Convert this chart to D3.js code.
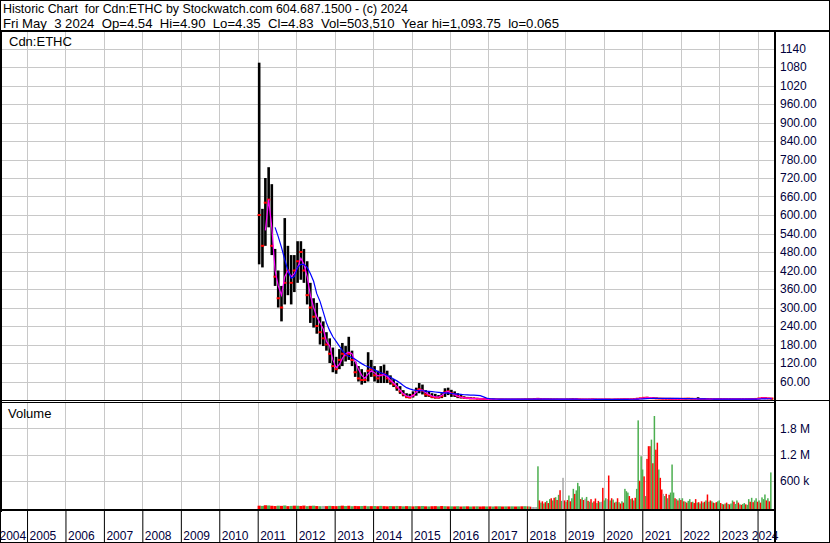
<!DOCTYPE html>
<html>
<head>
<meta charset="utf-8">
<script src="https://cdn.jsdelivr.net/npm/d3@7"></script>
<style>
body { margin: 0; background: #fff; }
svg { display: block; font-family: Arial, "Liberation Sans", sans-serif; }
</style>
</head>
<body>
<script>
// monthly bars, Jan 2011 .. May 2024
var priceHi = [
  1094, 620, 720, 755, 700, 490, 420, 370, 590, 500, 470, 470,
  515, 515, 490, 450, 380, 330, 315, 270, 255, 220, 200, 170,
  140, 165, 185, 175, 205, 160, 125, 110, 100, 90, 155, 130,
  110, 95, 110, 115, 95, 80, 68, 55, 45, 32, 22, 20,
  28, 40, 55, 50, 32, 28, 22, 20, 16, 22, 38, 40,
  33, 28, 22, 16, 12, 10, 9, 8, 7, 6, 5, 5,
  3.5, 3, 3, 3, 2.8, 2.8, 2.6, 2.6, 2.5, 2.5, 2.5, 3,
  3.5, 3.2, 4.5, 5, 4.2, 4, 3.8, 3.5, 3.2, 3.4, 3, 2.8,
  2.8, 3, 3.2, 3.4, 3, 2.8, 2.6, 2.6, 3, 2.8, 2.5, 2.5,
  2.6, 2.5, 2.4, 2.4, 2.6, 2.8, 3, 3.2, 3, 3.5, 5, 6.5,
  9, 10, 8.5, 8, 7.5, 6.5, 6, 5.5, 5.5, 5, 5, 4.8,
  5, 5.5, 6, 5.5, 5, 9, 5, 4.5, 4.2, 4, 3.8, 3.6,
  3.8, 3.6, 3.5, 3.5, 3.4, 3.2, 3.2, 3.3, 3.4, 3.3, 3.5, 4,
  6, 8, 9, 7, 4.9
];
var priceLo = [
  440, 430, 500, 560, 470, 370, 300, 255, 310, 340, 310, 350,
  380, 390, 380, 310, 250, 235, 215, 180, 175, 160, 120, 90,
  85, 100, 110, 125, 130, 110, 75, 60, 50, 55, 60, 75,
  60, 55, 55, 55, 55, 50, 42, 30, 20, 12, 6, 6,
  8, 14, 22, 18, 10, 10, 6, 5, 5, 6, 10, 16,
  10, 10, 6, 5, 4, 4, 3, 3, 2.5, 2, 2, 2,
  1.8, 1.6, 1.6, 1.5, 1.5, 1.4, 1.4, 1.3, 1.3, 1.3, 1.4, 1.5,
  1.8, 1.8, 2, 2.5, 2.2, 2, 2, 1.8, 1.7, 1.7, 1.6, 1.5,
  1.5, 1.6, 1.8, 2, 1.8, 1.6, 1.5, 1.5, 1.6, 1.5, 1.4, 1.4,
  1.5, 1.4, 1.2, 1.3, 1.5, 1.6, 1.8, 2, 1.9, 2, 2.5, 3.5,
  4.5, 5, 4.5, 4.2, 4, 3.8, 3.5, 3.4, 3.2, 3, 3, 2.8,
  3, 3, 3.2, 3, 2.8, 2.8, 2.6, 2.5, 2.4, 2.3, 2.2, 2.2,
  2.2, 2.2, 2.1, 2, 2, 2, 2, 2, 2.1, 2.1, 2.2, 2.4,
  3, 4, 4.5, 4.2, 4.35
];
var priceClose = [
  600, 500, 640, 650, 500, 400, 330, 300, 380, 420, 380, 420,
  450, 480, 420, 340, 300, 270, 240, 220, 200, 180, 150, 110,
  100, 130, 150, 145, 150, 130, 90, 70, 65, 65, 95, 100,
  80, 70, 80, 85, 70, 60, 50, 40, 28, 18, 10, 8,
  15, 30, 35, 30, 18, 15, 10, 8, 8, 12, 25, 28,
  22, 18, 12, 9, 7, 6, 5, 5, 4, 3.5, 3, 3,
  2.5, 2.2, 2.2, 2, 2, 1.9, 1.8, 1.8, 1.8, 1.9, 2, 2.4,
  2.4, 2.4, 3.2, 3.8, 3, 2.8, 2.6, 2.4, 2.3, 2.2, 2, 1.9,
  2.2, 2.4, 2.8, 2.6, 2.2, 2, 1.9, 2, 2.3, 2, 1.8, 1.9,
  2, 1.9, 1.6, 2, 2.2, 2.4, 2.6, 2.6, 2.5, 3, 4.2, 5.5,
  7, 7.5, 6, 5.8, 5, 4.5, 4.2, 4, 4, 3.8, 3.6, 3.5,
  4, 4.2, 4.5, 4, 3.6, 3.5, 3.3, 3.1, 3, 2.9, 2.8, 2.8,
  3, 2.9, 2.8, 2.8, 2.7, 2.6, 2.7, 2.8, 2.8, 2.9, 3.1, 3.4,
  5, 6.5, 6, 5, 4.83
];
// short average (magenta) and long average (blue), same months
var avgShort = [
  null, null, 550, 650, 560, 420, 370, 340, 400, 420, 400, 410,
  430, 460, 440, 400, 340, 300, 270, 250, 230, 190, 175, 130,
  105, 115, 135, 150, 155, 150, 125, 100, 80, 70, 85, 95,
  88, 78, 80, 82, 76, 65, 55, 45, 32, 20, 13, 10,
  14, 25, 33, 32, 24, 18, 13, 10, 9, 15, 24, 28,
  22, 17, 12, 9, 7, 6, 5, 4.5, 4, 3.5, 3.2, 3,
  2.8, 2.5, 2.3, 2.2, 2.1, 2, 1.9, 1.9, 1.9, 1.9, 2, 2.2,
  2.4, 2.4, 2.8, 3.4, 3.2, 2.9, 2.7, 2.5, 2.4, 2.3, 2.1, 2,
  2, 2.2, 2.5, 2.6, 2.4, 2.1, 2, 2, 2.2, 2.1, 1.9, 1.9,
  1.9, 1.9, 1.7, 1.9, 2.1, 2.3, 2.5, 2.6, 2.5, 2.9, 3.8, 5,
  6.5, 7.2, 6.6, 6, 5.3, 4.8, 4.4, 4.1, 4, 3.9, 3.7, 3.6,
  3.8, 4, 4.3, 4.1, 3.8, 3.6, 3.4, 3.2, 3, 2.9, 2.8, 2.8,
  2.9, 2.9, 2.8, 2.8, 2.7, 2.6, 2.6, 2.7, 2.8, 2.9, 3, 3.3,
  4.5, 5.8, 6, 5.5, 5
];
var avgLong = [
  null, null, null, null, null, 560, 530, 495, 455, 420, 395, 400,
  430, 440, 440, 430, 410, 385, 345, 320, 285, 250, 225, 205,
  190, 175, 160, 148, 142, 138, 132, 125, 118, 112, 108, 104,
  98, 92, 88, 85, 80, 74, 68, 62, 55, 47, 40, 36,
  33, 31, 30, 30, 29, 28, 27, 26, 25, 24, 23, 22,
  21, 20, 19, 18, 17, 16.5, 16, 15.5, 15, 14, 10, 6,
  4, 3.5, 3.2, 3, 3, 2.9, 2.8, 2.8, 2.8, 2.8, 2.8, 2.8,
  2.8, 2.8, 2.9, 3, 3, 3, 3, 2.9, 2.9, 2.8, 2.8, 2.7,
  2.6, 2.6, 2.6, 2.6, 2.5, 2.5, 2.4, 2.4, 2.4, 2.3, 2.3, 2.3,
  2.3, 2.3, 2.2, 2.2, 2.2, 2.2, 2.3, 2.3, 2.4, 2.5, 2.8, 3.2,
  3.8, 4.4, 4.8, 5.1, 5.3, 5.4, 5.5, 5.5, 5.4, 5.3, 5.2, 5,
  4.8, 4.6, 4.4, 4.2, 4, 3.8, 3.6, 3.4, 3.3, 3.2, 3.1, 3,
  3, 2.9, 2.9, 2.9, 2.9, 2.8, 2.8, 2.8, 2.8, 2.8, 2.9, 2.9,
  3.2, 3.5, 3.8, 4, 4.1
];

// volume in thousands: monthly 2011-2017, then every two weeks from Jan 2018
var volEarly = [
  30, 25, 40, 35, 28, 22, 30, 26, 35, 20, 25, 30,
  28, 24, 32, 20, 26, 30, 22, 18, 24, 20, 26, 22,
  20, 25, 30, 22, 28, 18, 24, 20, 22, 26, 18, 20,
  22, 18, 25, 20, 16, 22, 18, 24, 20, 16, 20, 18,
  15, 20, 18, 22, 16, 14, 18, 20, 16, 22, 18, 15,
  16, 14, 18, 12, 15, 16, 12, 14, 16, 12, 15, 13,
  14, 12, 15, 16, 12, 14, 13, 15, 12, 14, 16, 18
];
var volEarlyDir = "rgrgrrgrgrgr" + "grrgrgrgnrgr" + "rgrgrgrrgrgr" + "grgrrgrgrgrg" +
                  "rgrgrgrrgrgr" + "grgrgrgrgrrg" + "rgrgrgrgrgrg";
var volLate = [
  15, 12, 8, 0, 0, 0, 0, 930, 150, 100,
  130, 80, 110, 140, 90, 180, 200, 150, 210, 224,
  160, 278, 384, 140, 667, 150, 120, 160, 263, 130,
  200, 415, 300, 380, 552, 475, 180, 220, 160, 190,
  230, 140, 120, 180, 100, 130, 194, 90, 140, 110,
  120, 438, 150, 200, 180, 720, 150, 200, 170, 100,
  120, 200, 110, 80, 130, 100, 415, 361, 330, 250,
  180, 200, 150, 210, 415, 1980, 600, 1160, 857, 700,
  250, 1100, 1390, 1390, 1540, 1000, 2080, 1310, 1470, 857,
  667, 400, 300, 250, 300, 200, 280, 330, 971, 330,
  200, 180, 150, 200, 160, 200, 130, 120, 100, 140,
  180, 110, 120, 90, 180, 100, 110, 80, 130, 100,
  120, 150, 286, 120, 150, 130, 100, 90, 110, 130,
  150, 90, 70, 60, 80, 100, 70, 60, 80, 150,
  120, 70, 150, 100, 60, 50, 70, 90, 60, 50,
  180, 120, 210, 110, 150, 200, 120, 150, 100, 220,
  180, 286, 150, 200, 130, 790
];
var volLateDir = "rgrnnnngrg" + "rgrgrgrgrg" + "rgrgnrgrgr" + "ggrgggrgrn" +
                 "grgrgrrgrg" + "nrggnrgrgr" + "grgrgrgggr" + "grgrggrggr" +
                 "grrrgrgrrg" + "rrngrgrggg" + "rgrgrgrgrg" + "grgrrgrgrg" +
                 "rgrgrgrgrg" + "grgrgrgrgg" + "rggrgrggrg" + "grgrggrgrg" +
                 "ggrgrg";

var priceTicks = d3.range(60, 1141, 60);
var volTicks = [600000, 1200000, 1800000];
var volTickLabels = ["600 k", "1.2 M", "1.8 M"];
var headerLines = [
  "Historic Chart  for Cdn:ETHC by Stockwatch.com 604.687.1500 - (c) 2024",
  "Fri May  3 2024  Op=4.54  Hi=4.90  Lo=4.35  Cl=4.83  Vol=503,510  Year hi=1,093.75  lo=0.065"
];

var W = 830, H = 543;
var plotR = 774;
var navy = "#00003c";
var grid = "#c8c8c8";
var colors = { g: "#4caf50", r: "#ff0000", n: "#a8a8a8" };

var svg = d3.select("body").append("svg")
    .attr("width", W)
    .attr("height", H);

svg.append("rect").attr("width", W).attr("height", H).attr("fill", "#fff");

var x = d3.scaleTime()
    .domain([new Date(2011, 0, 1), new Date(2024, 0, 1)])
    .range([257.7, 757.55]);
var yP = d3.scaleLinear().domain([0, 1200]).range([400, 30]);
var yV = d3.scaleLinear().domain([0, 2400000]).range([507, 402]);

var defs = svg.append("defs");
defs.append("clipPath").attr("id", "clipP")
    .append("rect").attr("x", 0).attr("y", 32).attr("width", plotR).attr("height", 368);
defs.append("clipPath").attr("id", "clipV")
    .append("rect").attr("x", 0).attr("y", 403).attr("width", plotR).attr("height", 106);
defs.append("clipPath").attr("id", "clipX")
    .append("rect").attr("x", 0).attr("y", 505).attr("width", 779).attr("height", 40);

var years = d3.timeYear.range(new Date(2004, 0, 1), new Date(2024, 0, 2));

//grid lines
var gridG = svg.append("g");
gridG.selectAll(".hgrid")
    .data(priceTicks)
    .enter().append("line")
    .attr("x1", 0).attr("x2", plotR)
    .attr("y1", function(d) { return Math.round(yP(d)) + 0.5; })
    .attr("y2", function(d) { return Math.round(yP(d)) + 0.5; })
    .attr("stroke", grid);
gridG.selectAll(".vgrid")
    .data(volTicks)
    .enter().append("line")
    .attr("x1", 0).attr("x2", plotR)
    .attr("y1", function(d) { return Math.round(yV(d)) + 0.5; })
    .attr("y2", function(d) { return Math.round(yV(d)) + 0.5; })
    .attr("stroke", grid);
gridG.selectAll(".ygrid")
    .data(years.slice(1))
    .enter().append("path")
    .attr("d", function(d) {
        var xx = Math.round(x(d)) + 0.5;
        return "M" + xx + ",32V400M" + xx + ",403V509";
    })
    .attr("stroke", grid);

//price bars
var months = priceHi.map(function(d, i) { return i; });
function mx(i) { return x(new Date(2011, i, 15)); }

var priceG = svg.append("g").attr("clip-path", "url(#clipP)");
priceG.selectAll(".bar")
    .data(months)
    .enter().append("rect")
    .attr("x", function(i) { return mx(i) - 1.3; })
    .attr("y", function(i) { return yP(priceHi[i]); })
    .attr("width", 2.6)
    .attr("height", function(i) { return Math.max(1, yP(priceLo[i]) - yP(priceHi[i])); })
    .attr("fill", "#000");
priceG.selectAll(".tick")
    .data(months)
    .enter().append("rect")
    .attr("x", function(i) { return mx(i) - 1.6; })
    .attr("y", function(i) { return yP(priceClose[i]) - 1; })
    .attr("width", 3.3)
    .attr("height", 2)
    .attr("fill", "#ff0000");

var line = function(arr) {
    return d3.line()
        .defined(function(i) { return arr[i] != null; })
        .x(function(i) { return mx(i); })
        .y(function(i) { return yP(arr[i]); })(months);
};
priceG.append("path").attr("d", line(avgShort))
    .attr("fill", "none").attr("stroke", "#ff00ff").attr("stroke-width", 1.2);
priceG.append("path").attr("d", line(avgLong))
    .attr("fill", "none").attr("stroke", "#0000ff").attr("stroke-width", 1.2);

//volume bars
var volG = svg.append("g").attr("clip-path", "url(#clipV)");
volG.selectAll(".ve")
    .data(volEarly)
    .enter().append("rect")
    .attr("x", function(d, i) { return mx(i) - 1.6; })
    .attr("y", function(d) { return yV(d * 1000); })
    .attr("width", 3.2)
    .attr("height", function(d) { return 509 - yV(d * 1000); })
    .attr("fill", function(d, i) { return colors[volEarlyDir[i]]; });
volG.selectAll(".vl")
    .data(volLate)
    .enter().append("rect")
    .attr("x", function(d, i) { return x(new Date(2018, 0, 1 + 14 * i)); })
    .attr("y", function(d) { return yV(d * 1000); })
    .attr("width", 1.5)
    .attr("height", function(d) { return 509 - yV(d * 1000); })
    .attr("fill", function(d, i) { return colors[volLateDir[i]]; });

//axes
var priceAxis = svg.append("g")
    .attr("transform", "translate(" + (plotR + 1) + ",0)")
    .call(d3.axisRight(yP).tickValues(priceTicks).tickSize(0).tickPadding(5)
        .tickFormat(function(d) { return d >= 1000 ? d3.format("d")(d) : d3.format(".2f")(d); }));
var volAxis = svg.append("g")
    .attr("transform", "translate(" + (plotR + 1) + ",0)")
    .call(d3.axisRight(yV).tickValues(volTicks).tickSize(0).tickPadding(5)
        .tickFormat(function(d, i) { return volTickLabels[i]; }));
[priceAxis, volAxis].forEach(function(a) {
    a.select(".domain").remove();
    a.selectAll("text").attr("fill", navy).style("font-size", "12px")
        .style("font-family", "Arial, 'Liberation Sans', sans-serif");
});

var xAxis = svg.append("g")
    .attr("clip-path", "url(#clipX)")
    .append("g")
    .attr("transform", "translate(0,510)")
    .call(d3.axisBottom(x).tickValues(years).tickSize(33).tickFormat(d3.timeFormat("%Y")));
xAxis.select(".domain").remove();
xAxis.selectAll("line").attr("stroke", "#000");
xAxis.selectAll("text")
    .attr("y", 30)
    .attr("dy", 0)
    .attr("text-anchor", "start")
    .attr("fill", navy)
    .style("font-size", "12px")
    .style("font-family", "Arial, 'Liberation Sans', sans-serif")
    .attr("x", function(d) {
        // keep each year label inside the strip, as the original does at both ends
        var w = this.getComputedTextLength();
        var left = x(d) + 2;
        left = Math.min(left, 778 - w);
        left = Math.max(left, -1);
        return left - x(d);
    });

//frame
var frame = svg.append("g").attr("fill", "#000");
frame.append("rect").attr("x", 0).attr("y", 30).attr("width", W).attr("height", 2);
frame.append("rect").attr("x", 0).attr("y", 400).attr("width", W).attr("height", 1);
frame.append("rect").attr("x", 0).attr("y", 402).attr("width", plotR).attr("height", 1);
frame.append("rect").attr("x", 0).attr("y", 509).attr("width", plotR).attr("height", 2);
frame.append("rect").attr("x", 0).attr("y", 30).attr("width", 2).attr("height", 482);
frame.append("rect").attr("x", plotR).attr("y", 30).attr("width", 2).attr("height", H - 30);
svg.append("rect").attr("x", 0.5).attr("y", 0.5).attr("width", W - 1).attr("height", H - 1)
    .attr("fill", "none").attr("stroke", "#000");

//header and panel labels
svg.selectAll(".header")
    .data(headerLines)
    .enter().append("text")
    .attr("x", 3)
    .attr("y", function(d, i) { return 13 + i * 14.5; })
    .attr("textLength", function(d, i) { return i == 0 ? 405 : 556; })
    .attr("lengthAdjust", "spacingAndGlyphs")
    .style("font-size", "13.5px")
    .style("white-space", "pre")
    .attr("fill", "#000")
    .text(function(d) { return d; });

svg.append("text").attr("x", 9).attr("y", 46)
    .style("font-size", "13px").attr("fill", "#000").text("Cdn:ETHC");
svg.append("text").attr("x", 8).attr("y", 418)
    .style("font-size", "13px").attr("fill", "#000").text("Volume");
</script>
</body>
</html>
